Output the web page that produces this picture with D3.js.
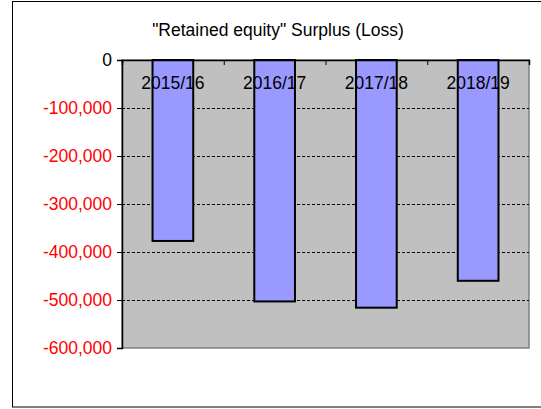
<!DOCTYPE html>
<html>
<head>
<meta charset="utf-8">
<script src="https://cdn.jsdelivr.net/npm/d3@7"></script>
<style>
  body { margin: 0; background: #fff; }
  text { font-family: "Liberation Sans", Arial, sans-serif; }
</style>
</head>
<body>
<div id="output"></div>
<script>
var title = '"Retained equity" Surplus (Loss)';
var years = ['2015/16', '2016/17', '2017/18', '2018/19'];
var surplus = [-377000, -503000, -516000, -460000];
var yTicks = [0, -100000, -200000, -300000, -400000, -500000, -600000];

var width = 541;
var height = 409;
var plot = { left: 122, top: 60, right: 529, bottom: 348 };
var fontSize = 17.5;

var svg = d3.select('#output')
  .append('svg')
  .attr('width', width)
  .attr('height', height);

// outer chart border (right side runs off the picture)
svg.append('rect')
  .attr('x', 12.5).attr('y', 1.5)
  .attr('width', 540).attr('height', 405.5)
  .attr('fill', '#fff')
  .attr('stroke', '#000')
  .attr('stroke-width', 1);

svg.append('text')
  .attr('x', 278).attr('y', 36)
  .attr('text-anchor', 'middle')
  .attr('font-size', fontSize)
  .text(title);

var x = d3.scaleBand()
  .domain(years)
  .range([plot.left, plot.right])
  .paddingInner(0.6)
  .paddingOuter(0.3);

var xEdges = d3.scaleLinear()
  .domain([0, years.length])
  .range([plot.left, plot.right]);

var y = d3.scaleLinear()
  .domain([0, -600000])
  .range([plot.top, plot.bottom]);

// plot area
svg.append('rect')
  .attr('x', plot.left).attr('y', plot.top)
  .attr('width', plot.right - plot.left)
  .attr('height', plot.bottom - plot.top)
  .attr('fill', '#c0c0c0')
  .attr('stroke', '#808080')
  .attr('stroke-width', 1.5);

// dashed gridlines
svg.append('g')
  .selectAll('line')
  .data(yTicks.filter(d => d !== 0 && d !== -600000))
  .enter()
  .append('line')
  .attr('x1', plot.left).attr('x2', plot.right)
  .attr('y1', d => Math.round(y(d)) + 0.5)
  .attr('y2', d => Math.round(y(d)) + 0.5)
  .attr('stroke', '#000')
  .attr('stroke-width', 1)
  .attr('stroke-dasharray', '3,2');

// y axis
var yAxis = d3.axisLeft(y)
  .tickValues(yTicks)
  .tickSize(5)
  .tickPadding(5)
  .tickFormat(d => d === 0 ? '0' : d3.format(',')(d).replace('−', '-'));

var gy = svg.append('g')
  .attr('transform', `translate(${plot.left}, 0)`)
  .call(yAxis);
gy.select('.domain').attr('stroke', '#000').attr('stroke-width', 1.5);
gy.selectAll('.tick line').attr('stroke', '#000');
gy.selectAll('.tick text')
  .attr('font-size', fontSize)
  .attr('font-family', '"Liberation Sans", Arial, sans-serif')
  .attr('fill', d => d === 0 ? '#000' : '#ff0000');

// bars
svg.append('g')
  .selectAll('rect')
  .data(surplus)
  .enter()
  .append('rect')
  .attr('x', (_, i) => x(years[i]))
  .attr('y', y(0))
  .attr('width', x.bandwidth())
  .attr('height', d => y(d) - y(0))
  .attr('fill', '#9999ff')
  .attr('stroke', '#000')
  .attr('stroke-width', 2);

// category axis along zero line, ticks pointing down
var gx = svg.append('g')
  .attr('transform', `translate(0, ${y(0)})`)
  .call(d3.axisBottom(xEdges).ticks(years.length).tickSize(5).tickFormat(''));
gx.select('.domain').attr('stroke', '#000').attr('stroke-width', 1.5);
gx.selectAll('.tick line').attr('stroke', '#000');

svg.append('g')
  .selectAll('text')
  .data(years)
  .enter()
  .append('text')
  .attr('x', d => x(d) + x.bandwidth() / 2)
  .attr('y', y(0) + 29)
  .attr('text-anchor', 'middle')
  .attr('font-size', fontSize)
  .text(d => d);
</script>
</body>
</html>
